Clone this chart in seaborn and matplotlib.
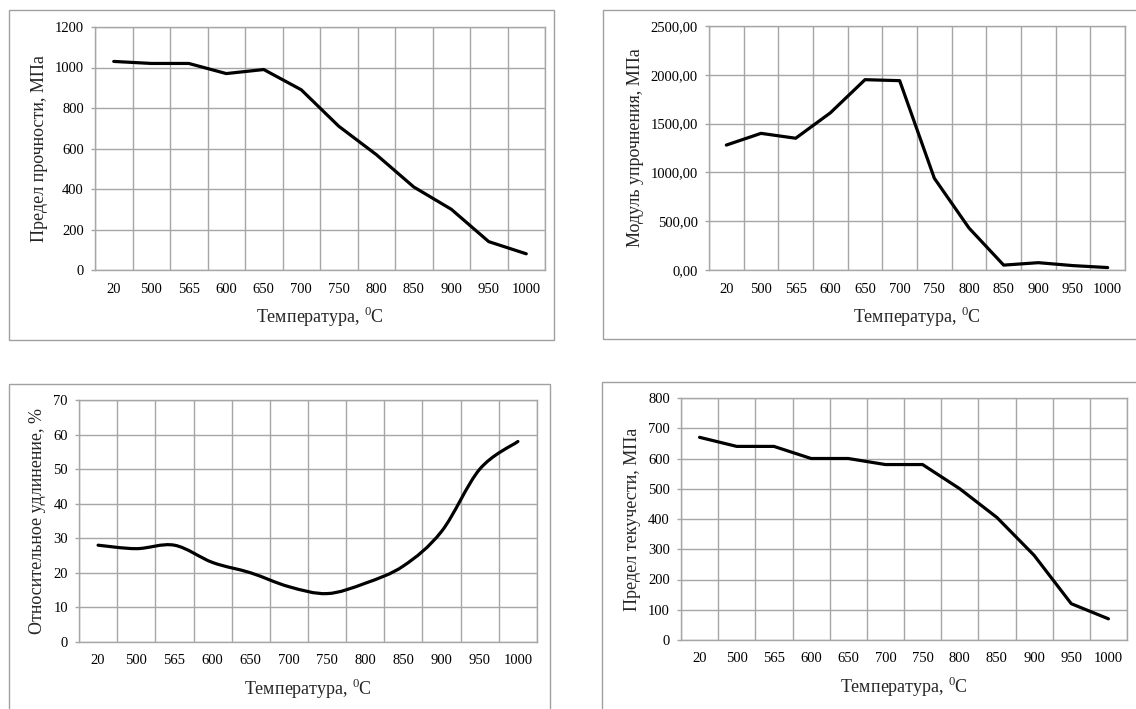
import numpy as np
import pandas as pd
import matplotlib
matplotlib.use('Agg')
import matplotlib.pyplot as plt
import seaborn as sns
from matplotlib.patches import Rectangle, PathPatch
from matplotlib.path import Path
from matplotlib.ticker import MultipleLocator, FuncFormatter

temperatura = ['20', '500', '565', '600', '650', '700', '750', '800', '850', '900', '950', '1000']
predel_prochnosti = [1030, 1020, 1020, 970, 990, 890, 710, 570, 410, 300, 140, 80]
modul_uprochneniya = [1280, 1400, 1350, 1610, 1950, 1940, 940, 430, 50, 75, 45, 25]
udlinenie = [28, 27, 28, 23, 20, 16, 14, 17, 22, 32, 50, 58]
predel_tekuchesti = [670, 640, 640, 600, 600, 580, 580, 500, 405, 280, 120, 70]

sns.set_theme(style='white')
plt.rcParams['font.family'] = ['Liberation Serif', 'DejaVu Serif']
plt.rcParams['mathtext.fontset'] = 'custom'
plt.rcParams['mathtext.rm'] = 'Liberation Serif'

W, H = 1136, 709
fig = plt.figure(figsize=(W / 100, H / 100), dpi=100)
fig.patch.set_facecolor('white')

GRID = '#a6a6a6'
FRAME = '#a0a0a0'


def px_axes(l, t, r, b):
    return fig.add_axes([l / W, 1 - b / H, (r - l) / W, (b - t) / H])


def frame(l, t, r, b):
    fig.add_artist(Rectangle((l / W, 1 - b / H), (r - l) / W, (b - t) / H,
                             transform=fig.transFigure, fill=False,
                             edgecolor=FRAME, linewidth=1.0))


def excel_smooth(x, y):
    # сглаженная линия как в Excel (кривые Безье)
    x = np.asarray(x, float)
    y = np.asarray(y, float)
    pts = np.column_stack([x, y])
    verts = [pts[0]]
    codes = [Path.MOVETO]
    n = len(pts)
    for i in range(n - 1):
        p0 = pts[i - 1] if i > 0 else pts[i]
        p1 = pts[i]
        p2 = pts[i + 1]
        p3 = pts[i + 2] if i + 2 < n else pts[i + 1]
        c1 = p1 + (p2 - p0) / 6
        c2 = p2 - (p3 - p1) / 6
        verts += [c1, c2, p2]
        codes += [Path.CURVE4] * 3
    return Path(verts, codes)


def style_axes(ax, ymax, ystep, ylabel, fmt=None, smooth=None, values=None):
    pos = np.arange(len(temperatura))
    df = pd.DataFrame({'pos': pos, 'val': values})
    if smooth:
        ax.add_patch(PathPatch(excel_smooth(df['pos'], df['val']), fill=False,
                               edgecolor='black', linewidth=2.3,
                               capstyle='round', joinstyle='round'))
    else:
        sns.lineplot(data=df, x='pos', y='val', ax=ax, color='black',
                     linewidth=2.3, solid_joinstyle='round', solid_capstyle='round')
    ax.set_xlim(-0.5, len(temperatura) - 0.5)
    ax.set_ylim(0, ymax)
    ax.set_xticks(pos)
    ax.set_xticklabels(temperatura)
    ax.set_xticks(np.arange(-0.5, len(temperatura)), minor=True)
    ax.yaxis.set_major_locator(MultipleLocator(ystep))
    if fmt:
        ax.yaxis.set_major_formatter(FuncFormatter(fmt))
    ax.grid(False)
    ax.xaxis.grid(True, which='minor', color=GRID, linewidth=1.0)
    ax.yaxis.grid(True, which='major', color=GRID, linewidth=1.0)
    ax.tick_params(axis='x', which='major', length=0, pad=9, labelsize=10.5, colors='black')
    ax.tick_params(axis='x', which='minor', length=3, width=1.0, color=GRID, direction='out')
    ax.tick_params(axis='y', which='major', length=3, width=1.0, color=GRID,
                   direction='out', pad=5, labelsize=10.5, labelcolor='black')
    ax.tick_params(bottom=True, left=True)
    for s in ax.spines.values():
        s.set_color(GRID)
        s.set_linewidth(1.0)
    ax.set_axisbelow(True)
    ax.set_xlabel('Температура, $^{0}$C', fontsize=13, labelpad=7)
    ax.set_ylabel(ylabel, fontsize=13, labelpad=5)


# Рамки областей диаграмм
frame(9, 10, 554, 340)
frame(603, 10, 1140, 339)
frame(9, 384, 550, 715)
frame(602, 382, 1140, 715)

ax1 = px_axes(95, 27, 545, 270)
style_axes(ax1, 1200, 200, 'Предел прочности, МПа', values=predel_prochnosti)

ax2 = px_axes(709, 26, 1125, 270)
style_axes(ax2, 2500, 500, 'Модуль упрочнения, МПа',
           fmt=lambda v, p: f'{v:.2f}'.replace('.', ','), values=modul_uprochneniya)

ax3 = px_axes(79, 400, 537, 642)
style_axes(ax3, 70, 10, 'Относительное удлинение, %', smooth=True, values=udlinenie)

ax4 = px_axes(681, 398, 1127, 640)
style_axes(ax4, 800, 100, 'Предел текучести, МПа', values=predel_tekuchesti)

plt.savefig('out.png', dpi=100, facecolor='white')
